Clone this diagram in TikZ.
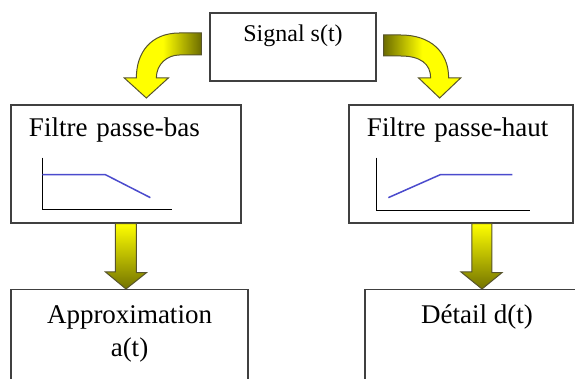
\documentclass[tikz,border=0pt]{standalone}
\usepackage{fontspec}
\setmainfont{Liberation Serif}
\usepackage{xcolor}
\usepackage{tikz}
\usetikzlibrary{calc}
\definecolor{response}{RGB}{75,75,205}
\tikzstyle{block}=[rectangle,draw=black!75,line width=0.65pt,fill=white,inner sep=0pt]
\tikzstyle{sigbox}=[block,minimum width=83pt,text height=14.5pt,text depth=19.5pt,font=\fontsize{12}{14}\selectfont]
\tikzstyle{filterbox}=[block,inner xsep=9pt,align=left,text height=16pt,text depth=43pt,font=\fontsize{13.5}{16.5}\selectfont]
\tikzstyle{outbox}=[block,anchor=north,text height=17pt,text depth=38.5pt,font=\fontsize{13.5}{16.5}\selectfont]
\tikzstyle{axis}=[black,line width=0.7pt]
\tikzstyle{gain}=[response,line width=0.75pt]
\tikzstyle{bigarrow}=[draw=olive!50!black,line width=0.5pt]
\tikzstyle{downarrow}=[bigarrow,top color=yellow,bottom color=olive!90!black]

\begin{document}
\begin{tikzpicture}[x=0.5pt,y=-0.5pt]
        \useasboundingbox (0,0) rectangle (575,379);
        \clip (0,0) rectangle (575,379);

        \node at (293,47)    [sigbox]                       (sig) {Signal s(t)};
        \node at (126,164)   [filterbox,text width=97pt]    (lp)  {Filtre passe-bas};
        \node at (461,164)   [filterbox,text width=94pt]    (hp)  {Filtre passe-haut};
        \node at (129.5,289) [outbox,minimum width=118.5pt] (ap)  {\begin{tabular}[t]{@{}c@{}}Approximation\\a(t)\end{tabular}};
        \node at (477,289)   [outbox,minimum width=112pt]   (dt)  {Détail d(t)};

        % frequency responses
        \begin{scope}[shift={(lp.south west)}]
          \draw [axis] (32,-66) -- (32,-14) -- (162,-14);
          \draw [gain] (32,-49) -- (95,-49) -- (140,-26);
        \end{scope}
        \begin{scope}[shift={(hp.south west)}]
          \draw [axis] (28,-66) -- (28,-13) -- (182,-13);
          \draw [gain] (40,-26) -- (92,-49) -- (164,-49);
        \end{scope}

        % signal split to both filters
        \begin{scope}[shift={(sig.west)}]
          \path [bigarrow,left color=yellow,right color=olive!85!black,middle color=yellow]
            (-8,-14) -- (-30,-14) .. controls (-58,-14) and (-73,5) .. (-73,31)
            -- (-85,31) -- (-63,51) -- (-41,31) -- (-53,31)
            .. controls (-53,17) and (-42,8) .. (-30,8) -- (-8,8) -- cycle;
        \end{scope}
        \begin{scope}[shift={(sig.east)}]
          \path [bigarrow,left color=olive!85!black,right color=yellow,middle color=yellow]
            (7,-12) -- (24,-12) .. controls (54,-12) and (72,5) .. (72,31)
            -- (84,31) -- (63,51) -- (42,31) -- (54,31)
            .. controls (54,17) and (44,9) .. (24,9) -- (7,9) -- cycle;
        \end{scope}

        % filter outputs
        \path [downarrow] ($(lp.south)+(-10.5,0)$) -- ++(21,0) -- ++(0,49) -- ++(10,0)
          -- (lp.south |- ap.north) -- ++(-20.5,-17) -- ++(10,0) -- cycle;
        \path [downarrow] ($(hp.south)+(11,0)$) -- ++(20,0) -- ++(0,49) -- ++(10,0)
          -- ($(hp.south |- dt.north)+(21,0)$) -- ++(-21,-17) -- ++(11,0) -- cycle;
      \end{tikzpicture}
\end{document}
